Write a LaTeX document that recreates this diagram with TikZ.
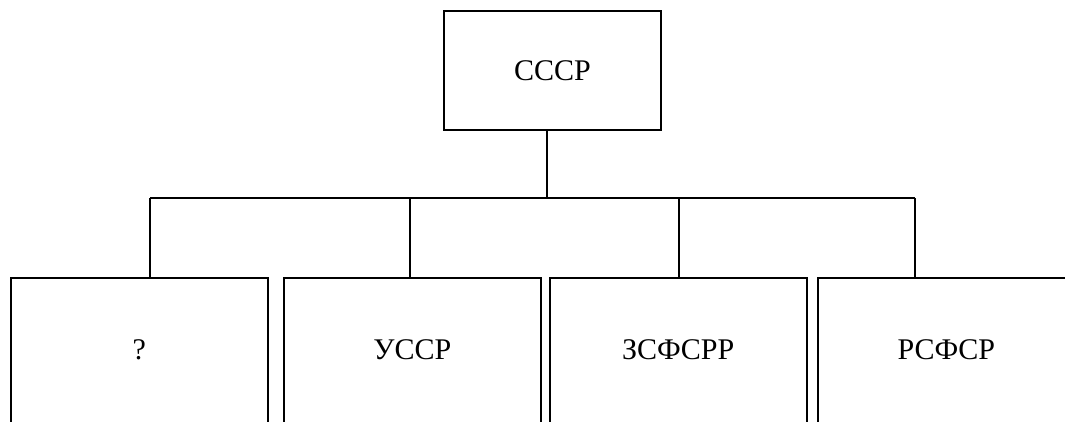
\documentclass[tikz,border=0pt]{standalone}
\usepackage{fontspec}
\setmainfont{Liberation Serif}
\begin{document}
\begin{tikzpicture}[x=1pt,y=1pt,
  line width=1.5pt,
  topbox/.style={draw, rectangle, inner sep=0pt, minimum width=217pt, minimum height=119pt, font=\fontsize{30}{36}\selectfont},
  subbox/.style={draw, rectangle, inner sep=0pt, minimum width=257pt, text height=81.5pt, text depth=91.5pt, font=\fontsize{30}{36}\selectfont},
  wire/.style={draw, line width=1.5pt}]
\useasboundingbox (0,0) rectangle (1065,-421);
\clip (0,0) rectangle (1065,-421);
\fill[white] (0,0) rectangle (1065,-421);
\node[topbox] (top) at (552.5,-70.5) {СССР};
\node[subbox, anchor=north west] (b1) at (10,-277) {?};
\node[subbox, anchor=north west] (b2) at (283,-277) {УССР};
\node[subbox, anchor=north west] (b3) at (549,-277) {ЗСФСРР};
\node[subbox, anchor=north west] (b4) at (817,-277) {РСФСР};
\coordinate (j0) at (547,-198);
\coordinate (d1) at (150,-198);
\coordinate (d2) at (410,-198);
\coordinate (d3) at (679,-198);
\coordinate (d4) at (915,-198);
\draw[wire] (top.south -| j0) -- (j0);
\draw[wire] (d1) -- (d4);
\draw[wire] (d1) -- (d1 |- b1.north);
\draw[wire] (d2) -- (d2 |- b2.north);
\draw[wire] (d3) -- (d3 |- b3.north);
\draw[wire] (d4) -- (d4 |- b4.north);
\end{tikzpicture}
\end{document}
